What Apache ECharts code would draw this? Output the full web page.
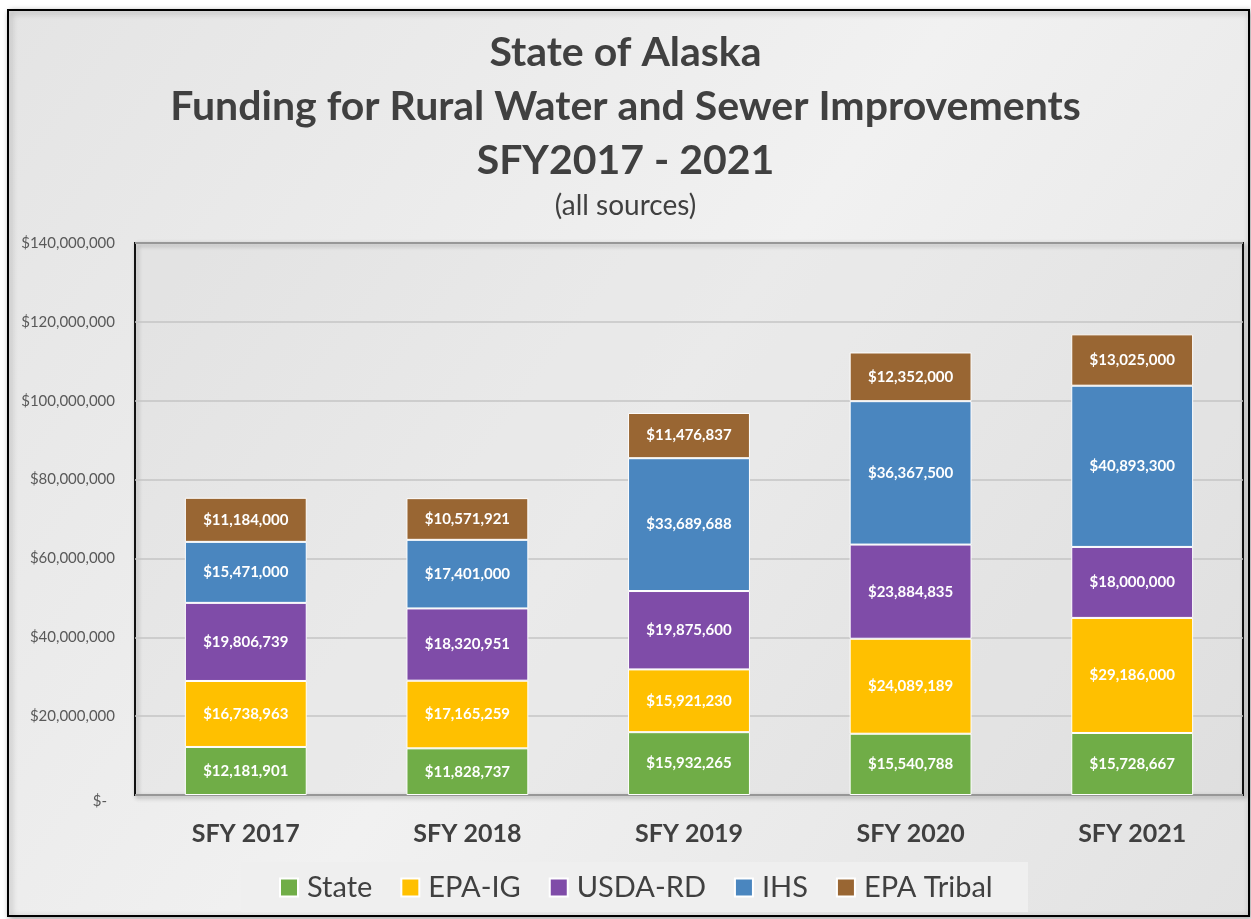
<!DOCTYPE html>
<html>
<head>
<meta charset="utf-8">
<script src="https://cdn.jsdelivr.net/npm/echarts@6/dist/echarts.min.js"></script>
<style>
  html, body { margin: 0; padding: 0; background: #fff; }
  #chart { width: 1251px; height: 919px; }
</style>
</head>
<body>
<div id="chart"></div>
<script>
const categories = ['SFY 2017', 'SFY 2018', 'SFY 2019', 'SFY 2020', 'SFY 2021'];
const stateVals = [12181901, 11828737, 15932265, 15540788, 15728667];
const epaIgVals = [16738963, 17165259, 15921230, 24089189, 29186000];
const usdaRdVals = [19806739, 18320951, 19875600, 23884835, 18000000];
const ihsVals = [15471000, 17401000, 33689688, 36367500, 40893300];
const epaTribalVals = [11184000, 10571921, 11476837, 12352000, 13025000];

const seriesDefs = [
  { name: 'State', data: stateVals, color: '#70AD47' },
  { name: 'EPA-IG', data: epaIgVals, color: '#FFC000' },
  { name: 'USDA-RD', data: usdaRdVals, color: '#7F4CA8' },
  { name: 'IHS', data: ihsVals, color: '#4A86BF' },
  { name: 'EPA Tribal', data: epaTribalVals, color: '#996633' }
];

const FONT = 'Lato, "Open Sans", sans-serif';

const money = v => '$' + Math.round(v).toLocaleString('en-US');

const chart = echarts.init(document.getElementById('chart'));

chart.setOption({
  animation: false,
  textStyle: { fontFamily: FONT },
  graphic: [
    {
      type: 'rect', z: -10, silent: true,
      shape: { x: 8, y: 10, width: 1241, height: 906 },
      style: {
        fill: new echarts.graphic.LinearGradient(0, 0, 1, 1, [
          { offset: 0, color: '#e4e4e4' },
          { offset: 0.5, color: '#f1f1f1' },
          { offset: 1, color: '#e2e2e2' }
        ]),
        stroke: '#000', lineWidth: 2,
        shadowBlur: 6, shadowColor: 'rgba(0,0,0,0.35)', shadowOffsetX: 2, shadowOffsetY: 2
      }
    },
    {
      type: 'rect', z: -5, silent: true,
      shape: { x: 241, y: 862, width: 787, height: 50 },
      style: { fill: '#efefef' }
    }
  ],
  title: [
    {
      text: 'State of Alaska\nFunding for Rural Water and Sewer Improvements\nSFY2017 - 2021',
      left: 'center', top: 21,
      textStyle: { fontFamily: FONT, fontSize: 41, fontWeight: 'bold', color: '#404040', lineHeight: 54 }
    },
    {
      text: '(all sources)',
      left: 'center', top: 187,
      textStyle: { fontFamily: FONT, fontSize: 28, fontWeight: 'normal', color: '#404040' }
    }
  ],
  legend: {
    bottom: 12, left: 274,
    itemWidth: 18, itemHeight: 18, itemGap: 28,
    icon: 'rect',
    textStyle: { fontFamily: FONT, fontSize: 29, color: '#404040', padding: [0, 0, 0, 4] },
    data: seriesDefs.map(s => s.name)
  },
  grid: {
    left: 135, right: 8, top: 243, bottom: 124,
    show: true, borderColor: '#111', borderWidth: 2,
    backgroundColor: 'rgba(255,255,255,0.15)',
    shadowBlur: 4, shadowColor: 'rgba(0,0,0,0.3)', shadowOffsetX: 2, shadowOffsetY: 2
  },
  xAxis: {
    type: 'category',
    data: categories,
    axisLine: { show: false },
    axisTick: { show: false },
    axisLabel: { fontFamily: FONT, fontSize: 25, fontWeight: 'bold', color: '#404040', margin: 26 }
  },
  yAxis: {
    type: 'value',
    min: 0, max: 140000000, interval: 20000000,
    axisLine: { show: false },
    axisTick: { show: false },
    splitLine: { lineStyle: { color: '#c4c4c4', width: 1.5 } },
    axisLabel: {
      fontFamily: FONT, fontSize: 15, color: '#595959', margin: 20,
      formatter: v => v === 0 ? '{z|$-}' : money(v),
      rich: { z: { fontFamily: FONT, fontSize: 15, color: '#595959', padding: [12, 8, 0, 0] } }
    }
  },
  series: seriesDefs.map(s => ({
    name: s.name,
    type: 'bar',
    stack: 'total',
    barWidth: '55%',
    data: s.data,
    itemStyle: { color: s.color, borderColor: '#ffffff', borderWidth: 1 },
    label: {
      show: true, position: 'inside',
      formatter: p => money(p.value),
      fontFamily: FONT, fontSize: 15, fontWeight: 'bold', color: '#ffffff'
    }
  }))
});
</script>
</body>
</html>
